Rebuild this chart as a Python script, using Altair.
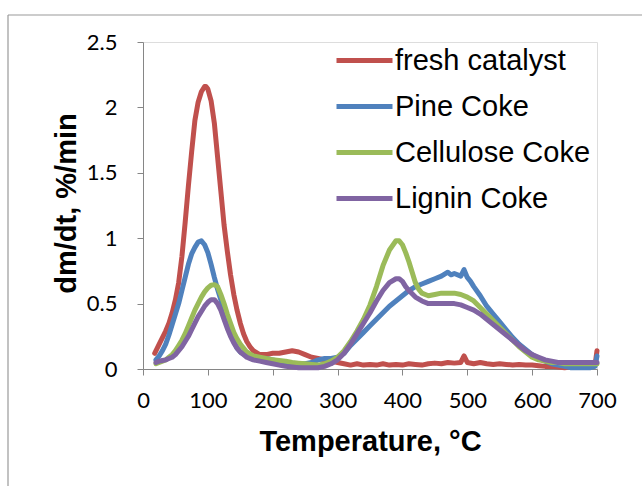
import altair as alt
import pandas as pd

# ---- data ----
fresh_T = [18, 25, 30, 35, 40, 45, 50, 55, 60, 65, 70, 75, 80, 85, 90, 95, 97, 100, 105, 110, 115, 120, 125, 130,
           135, 140, 145, 150, 155, 160, 165, 170, 180, 190, 200, 210, 220, 230, 240, 250, 260, 270, 280, 290, 300,
           310, 320, 330, 340, 350, 360, 370, 380, 390, 400, 410, 420, 430, 440, 450, 460, 470, 480, 490, 495, 500,
           510, 520, 530, 540, 550, 560, 570, 580, 590, 600, 610, 620, 630, 640, 650, 660, 670, 680, 690, 697, 700]
fresh_v = [0.12, 0.19, 0.24, 0.29, 0.35, 0.43, 0.53, 0.66, 0.86, 1.12, 1.4, 1.66, 1.9, 2.04, 2.12, 2.16, 2.16, 2.14,
           2.05, 1.88, 1.62, 1.36, 1.1, 0.9, 0.72, 0.57, 0.45, 0.35, 0.27, 0.21, 0.17, 0.14, 0.11, 0.11, 0.12, 0.12,
           0.13, 0.14, 0.13, 0.11, 0.09, 0.08, 0.07, 0.06, 0.05, 0.04, 0.03, 0.04, 0.03, 0.035, 0.03, 0.04, 0.03,
           0.035, 0.03, 0.04, 0.035, 0.03, 0.04, 0.045, 0.04, 0.05, 0.045, 0.05, 0.1, 0.05, 0.04, 0.05, 0.04, 0.035,
           0.04, 0.035, 0.03, 0.035, 0.03, 0.03, 0.025, 0.02, 0.02, 0.015, 0.01, 0.015, 0.02, 0.02, 0.025, 0.03, 0.14]

pine_T = [20, 25, 30, 35, 40, 45, 50, 55, 60, 65, 70, 75, 80, 85, 90, 95, 100, 105, 110, 115, 120, 125, 130, 135,
          140, 145, 150, 160, 170, 180, 190, 200, 210, 220, 230, 240, 250, 260, 270, 280, 290, 300, 310, 320, 330,
          340, 350, 360, 370, 380, 390, 400, 410, 420, 430, 440, 450, 460, 470, 475, 480, 490, 495, 500, 505, 510,
          520, 530, 540, 550, 560, 570, 580, 590, 600, 610, 620, 630, 640, 650, 660, 670, 680, 690, 697, 700]
pine_v = [0.07, 0.1, 0.14, 0.19, 0.26, 0.34, 0.42, 0.5, 0.6, 0.7, 0.8, 0.88, 0.93, 0.97, 0.98, 0.95, 0.89, 0.8,
          0.7, 0.61, 0.53, 0.44, 0.36, 0.28, 0.21, 0.16, 0.13, 0.1, 0.09, 0.08, 0.08, 0.07, 0.06, 0.05, 0.045, 0.04,
          0.04, 0.05, 0.07, 0.08, 0.08, 0.09, 0.12, 0.18, 0.23, 0.28, 0.33, 0.38, 0.43, 0.48, 0.52, 0.56, 0.6, 0.63,
          0.65, 0.67, 0.69, 0.71, 0.74, 0.72, 0.73, 0.71, 0.76, 0.7, 0.67, 0.63, 0.56, 0.48, 0.42, 0.36, 0.3, 0.24,
          0.19, 0.15, 0.11, 0.08, 0.06, 0.04, 0.03, 0.02, 0.01, 0.01, 0.01, 0.01, 0.02, 0.1]

cell_T = [20, 25, 30, 35, 40, 45, 50, 55, 60, 65, 70, 75, 80, 85, 90, 95, 100, 105, 110, 115, 120, 125, 130, 135,
          140, 145, 150, 155, 160, 170, 180, 190, 200, 210, 220, 230, 240, 250, 260, 270, 280, 290, 300, 310, 320,
          330, 340, 350, 360, 370, 380, 390, 395, 400, 405, 410, 415, 420, 425, 430, 440, 450, 460, 470, 480, 490,
          500, 510, 520, 530, 540, 550, 560, 570, 580, 590, 600, 610, 620, 630, 640, 650, 660, 670, 680, 690, 700]
cell_v = [0.04, 0.05, 0.06, 0.07, 0.09, 0.11, 0.14, 0.18, 0.22, 0.27, 0.33, 0.39, 0.45, 0.5, 0.55, 0.59, 0.62,
          0.64, 0.645, 0.63, 0.57, 0.5, 0.42, 0.35, 0.28, 0.23, 0.19, 0.16, 0.13, 0.1, 0.09, 0.08, 0.07, 0.065, 0.06,
          0.05, 0.045, 0.04, 0.035, 0.03, 0.04, 0.06, 0.09, 0.14, 0.21, 0.29, 0.38, 0.49, 0.63, 0.79, 0.91, 0.98,
          0.98, 0.95, 0.89, 0.82, 0.74, 0.66, 0.61, 0.58, 0.56, 0.57, 0.58, 0.58, 0.58, 0.57, 0.55, 0.52, 0.47, 0.42,
          0.37, 0.32, 0.27, 0.22, 0.17, 0.13, 0.09, 0.07, 0.06, 0.05, 0.05, 0.04, 0.04, 0.04, 0.04, 0.04, 0.04]

lig_T = [20, 25, 30, 35, 40, 45, 50, 55, 60, 65, 70, 75, 80, 85, 90, 95, 100, 105, 110, 115, 120, 125, 130, 135,
         140, 145, 150, 155, 160, 170, 180, 190, 200, 210, 220, 230, 240, 250, 260, 270, 280, 290, 300, 310, 320,
         330, 340, 350, 360, 370, 380, 390, 395, 400, 405, 410, 420, 430, 440, 450, 460, 470, 480, 490, 500, 510,
         520, 530, 540, 550, 560, 570, 580, 590, 600, 610, 620, 630, 640, 650, 660, 670, 680, 690, 700]
lig_v = [0.05, 0.06, 0.065, 0.07, 0.08, 0.09, 0.11, 0.14, 0.17, 0.21, 0.25, 0.3, 0.35, 0.4, 0.44, 0.48, 0.51,
         0.53, 0.53, 0.5, 0.45, 0.38, 0.31, 0.25, 0.2, 0.16, 0.13, 0.11, 0.09, 0.07, 0.06, 0.05, 0.04, 0.03, 0.02,
         0.015, 0.01, 0.01, 0.01, 0.01, 0.02, 0.04, 0.07, 0.12, 0.19, 0.27, 0.35, 0.43, 0.52, 0.6, 0.66, 0.69, 0.69,
         0.67, 0.63, 0.6, 0.55, 0.52, 0.5, 0.5, 0.5, 0.5, 0.5, 0.49, 0.47, 0.45, 0.42, 0.38, 0.34, 0.3, 0.26, 0.22,
         0.18, 0.14, 0.11, 0.09, 0.07, 0.06, 0.05, 0.05, 0.05, 0.05, 0.05, 0.05, 0.05]

series_names = ["fresh catalyst", "Pine Coke", "Cellulose Coke", "Lignin Coke"]
series_colors = ["#C0504D", "#4F81BD", "#9BBB59", "#8064A2"]
x_ticks = [0, 100, 200, 300, 400, 500, 600, 700]
y_ticks = [0, 0.5, 1, 1.5, 2, 2.5]

frames = []
for name, T, v in zip(series_names, [fresh_T, pine_T, cell_T, lig_T], [fresh_v, pine_v, cell_v, lig_v]):
    frames.append(pd.DataFrame({"T": T, "v": v, "series": name, "order": range(len(T))}))
df = pd.concat(frames, ignore_index=True)

W, H = 454, 327
GRAY = "#868686"

lines = alt.Chart(df).mark_line(strokeWidth=5, strokeCap="round", strokeJoin="round").encode(
    x=alt.X("T:Q", scale=alt.Scale(domain=[0, 700], nice=False),
            axis=alt.Axis(values=x_ticks, title="Temperature, °C", grid=False, labelFlush=False,
                          labelOverlap=False,
                          domainColor=GRAY, tickColor=GRAY, tickSize=6, labelPadding=15,
                          labelFont="Lato", labelFontSize=22, labelColor="black",
                          titleFont="Liberation Sans", titleFontSize=29, titleFontWeight="bold",
                          titleColor="black", titleBaseline="alphabetic", titleY=81)),
    y=alt.Y("v:Q", scale=alt.Scale(domain=[0, 2.5], nice=False),
            axis=alt.Axis(values=y_ticks, format="~g", title="dm/dt, %/min", grid=False, labelFlush=False,
                          labelOverlap=False,
                          domainColor=GRAY, tickColor=GRAY, tickSize=6, labelPadding=20,
                          labelFont="Lato", labelFontSize=22, labelColor="black",
                          titleFont="Liberation Sans", titleFontSize=29, titleFontWeight="bold",
                          titleColor="black", titleBaseline="alphabetic", titleX=-68, titleY=161)),
    color=alt.Color("series:N", scale=alt.Scale(domain=series_names, range=series_colors),
                    legend=alt.Legend(title=None, orient="none", legendX=191, legendY=-12,
                                      symbolType="stroke", symbolSize=3136, symbolStrokeWidth=5,
                                      labelFont="Liberation Sans", labelFontSize=29, labelColor="black",
                                      labelOffset=0, rowPadding=0, padding=0, labelLimit=400)),
    order="order:Q",
)

frame_df = pd.DataFrame({"a": [0]})
top_border = alt.Chart(frame_df).mark_rule(color="#999999", strokeWidth=1.2).encode(
    x=alt.value(-135), x2=alt.value(W + 60), y=alt.value(-27))
left_border = alt.Chart(frame_df).mark_rule(color="#999999", strokeWidth=1.2).encode(
    x=alt.value(-135), y=alt.value(-27), y2=alt.value(H + 130))

chart = alt.layer(top_border, left_border, lines).properties(
    width=W, height=H,
    autosize=alt.AutoSizeParams(type="none"),
    padding={"left": 143, "top": 42, "right": 45, "bottom": 117},
).configure_view(stroke=None).configure(background="white")

chart.save("out.html", embed_options={"renderer": "svg", "actions": False})
